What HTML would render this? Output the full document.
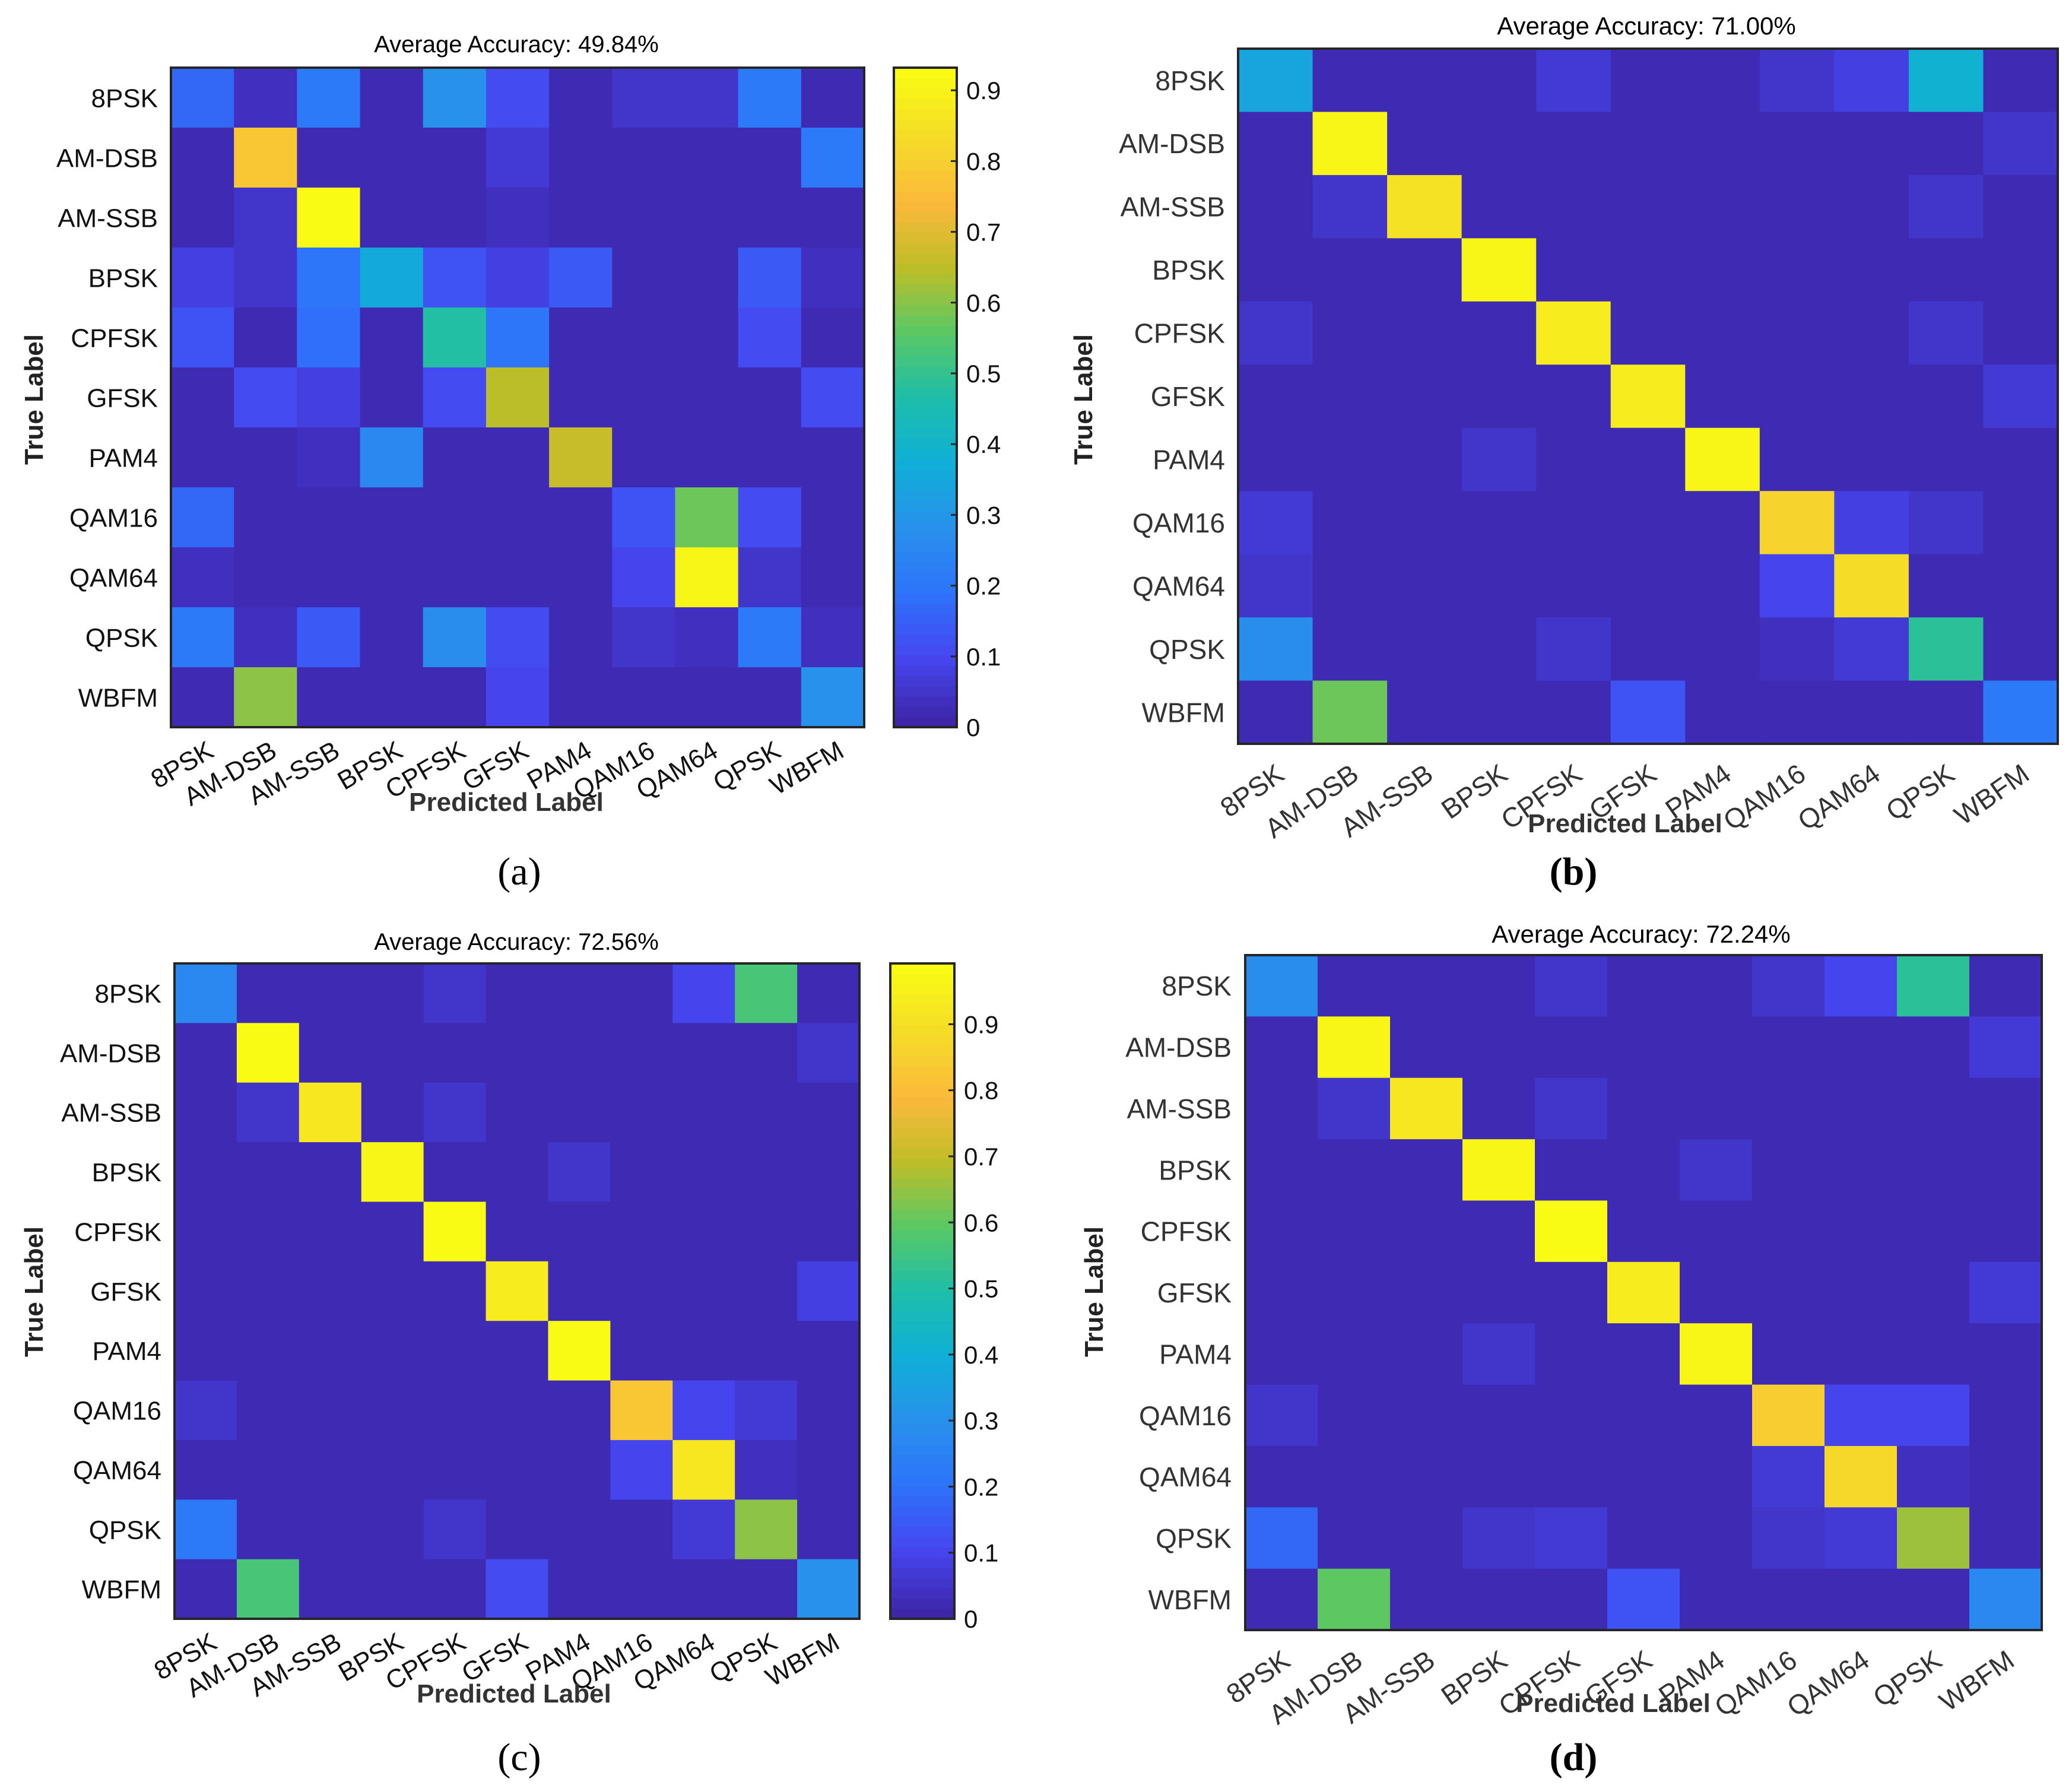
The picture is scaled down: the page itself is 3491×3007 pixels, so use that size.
<!DOCTYPE html>
<html><head><meta charset="utf-8"><title>Confusion matrices</title>
<style>html,body{margin:0;padding:0;background:#fff}svg{display:block}</style></head>
<body>
<svg id="fig" xmlns="http://www.w3.org/2000/svg" width="3491" height="3007" viewBox="0 0 3491 3007">
<rect width="3491" height="3007" fill="#fff"/>
</svg>
<script>
const classes = ["8PSK","AM-DSB","AM-SSB","BPSK","CPFSK","GFSK","PAM4","QAM16","QAM64","QPSK","WBFM"];
const titleA = "Average Accuracy: 49.84%";
const titleB = "Average Accuracy: 71.00%";
const titleC = "Average Accuracy: 72.56%";
const titleD = "Average Accuracy: 72.24%";
const matA = [
 [0.17,0.03,0.20,0.02,0.28,0.10,0.02,0.04,0.04,0.20,0.02],
 [0.01,0.78,0.01,0.01,0.01,0.06,0.01,0.01,0.01,0.01,0.21],
 [0.01,0.04,0.93,0.01,0.01,0.03,0.01,0.01,0.01,0.01,0.01],
 [0.07,0.05,0.19,0.35,0.12,0.08,0.14,0.01,0.01,0.13,0.03],
 [0.12,0.02,0.18,0.01,0.47,0.19,0.01,0.01,0.01,0.10,0.02],
 [0.01,0.10,0.08,0.01,0.10,0.65,0.01,0.01,0.01,0.01,0.11],
 [0.01,0.01,0.03,0.25,0.01,0.01,0.67,0.01,0.01,0.01,0.01],
 [0.16,0.01,0.01,0.01,0.01,0.01,0.01,0.12,0.58,0.10,0.01],
 [0.03,0.01,0.01,0.01,0.01,0.01,0.01,0.09,0.91,0.04,0.01],
 [0.20,0.03,0.14,0.02,0.26,0.10,0.02,0.05,0.03,0.20,0.03],
 [0.01,0.60,0.01,0.01,0.01,0.09,0.01,0.01,0.01,0.01,0.28]
];
const matB = [
 [0.36,0.02,0.02,0.02,0.06,0.02,0.02,0.04,0.08,0.42,0.02],
 [0.02,0.99,0.02,0.02,0.02,0.02,0.02,0.02,0.02,0.02,0.05],
 [0.02,0.04,0.92,0.02,0.02,0.02,0.02,0.02,0.02,0.04,0.02],
 [0.02,0.02,0.02,0.99,0.02,0.02,0.02,0.02,0.02,0.02,0.02],
 [0.04,0.02,0.02,0.02,0.96,0.02,0.02,0.02,0.02,0.04,0.02],
 [0.02,0.02,0.02,0.02,0.02,0.96,0.02,0.02,0.02,0.02,0.06],
 [0.02,0.02,0.02,0.04,0.02,0.02,0.99,0.02,0.02,0.02,0.02],
 [0.07,0.02,0.02,0.02,0.02,0.02,0.02,0.87,0.08,0.05,0.02],
 [0.04,0.02,0.02,0.02,0.02,0.02,0.02,0.09,0.90,0.02,0.02],
 [0.29,0.02,0.02,0.02,0.05,0.02,0.02,0.03,0.07,0.52,0.02],
 [0.02,0.62,0.02,0.02,0.02,0.12,0.02,0.02,0.02,0.02,0.23]
];
const matC = [
 [0.27,0.02,0.02,0.02,0.05,0.02,0.02,0.02,0.09,0.56,0.02],
 [0.02,0.99,0.02,0.02,0.02,0.02,0.02,0.02,0.02,0.02,0.04],
 [0.02,0.05,0.93,0.02,0.05,0.02,0.02,0.02,0.02,0.02,0.02],
 [0.02,0.02,0.02,0.97,0.02,0.02,0.04,0.02,0.02,0.02,0.02],
 [0.02,0.02,0.02,0.02,0.99,0.02,0.02,0.02,0.02,0.02,0.02],
 [0.02,0.02,0.02,0.02,0.02,0.95,0.02,0.02,0.02,0.02,0.08],
 [0.02,0.02,0.02,0.02,0.02,0.02,0.99,0.02,0.02,0.02,0.02],
 [0.05,0.02,0.02,0.02,0.02,0.02,0.02,0.83,0.09,0.06,0.02],
 [0.02,0.02,0.02,0.02,0.02,0.02,0.02,0.09,0.93,0.03,0.02],
 [0.22,0.02,0.02,0.02,0.05,0.02,0.02,0.02,0.07,0.64,0.02],
 [0.02,0.56,0.02,0.02,0.02,0.11,0.02,0.02,0.02,0.02,0.30]
];
const matD = [
 [0.28,0.02,0.02,0.02,0.04,0.02,0.02,0.04,0.09,0.52,0.02],
 [0.02,0.99,0.02,0.02,0.02,0.02,0.02,0.02,0.02,0.02,0.06],
 [0.02,0.04,0.93,0.02,0.04,0.02,0.02,0.02,0.02,0.02,0.02],
 [0.02,0.02,0.02,0.99,0.02,0.02,0.05,0.02,0.02,0.02,0.02],
 [0.02,0.02,0.02,0.02,1.00,0.02,0.02,0.02,0.02,0.02,0.02],
 [0.02,0.02,0.02,0.02,0.02,0.96,0.02,0.02,0.02,0.02,0.06],
 [0.02,0.02,0.02,0.04,0.02,0.02,0.99,0.02,0.02,0.02,0.02],
 [0.05,0.02,0.02,0.02,0.02,0.02,0.02,0.85,0.10,0.10,0.02],
 [0.02,0.02,0.02,0.02,0.02,0.02,0.02,0.06,0.89,0.03,0.02],
 [0.17,0.02,0.02,0.05,0.06,0.02,0.02,0.05,0.06,0.66,0.02],
 [0.02,0.60,0.02,0.02,0.02,0.12,0.02,0.02,0.02,0.02,0.27]
];
const cbMaxA = 0.932;
const cbMaxC = 0.992;
const cbTicks = [0,0.1,0.2,0.3,0.4,0.5,0.6,0.7,0.8,0.9];
const cbTickLabels = ["0","0.1","0.2","0.3","0.4","0.5","0.6","0.7","0.8","0.9"];

const NS = "http://www.w3.org/2000/svg";
const svg = document.getElementById('fig');
const stops = [[0,62,38,168],[0.1,70,70,240],[0.2,45,115,250],[0.3,40,145,235],[0.4,15,175,215],[0.5,30,190,170],[0.6,90,200,100],[0.7,190,190,40],[0.8,252,185,60],[0.9,245,220,40],[1,249,251,20]];
function parula(t){
  t=Math.max(0,Math.min(1,t));
  t=Math.round(t*63)/63;
  for(let i=1;i<stops.length;i++){
    if(t<=stops[i][0]){
      const a=stops[i-1],b=stops[i],f=(t-a[0])/(b[0]-a[0]);
      return `rgb(${Math.round(a[1]+f*(b[1]-a[1]))},${Math.round(a[2]+f*(b[2]-a[2]))},${Math.round(a[3]+f*(b[3]-a[3]))})`;
    }
  }
  return 'rgb(249,251,20)';
}
function el(tag, attrs, parent){
  const e=document.createElementNS(NS,tag);
  for(const k in attrs) e.setAttribute(k, attrs[k]);
  parent.appendChild(e);
  return e;
}
const panels = [
 {id:'a',mat:matA,title:titleA,vmax:cbMaxA,L:288,R:1456,T:114,B:1225,titleX:870,titleY:88,ylabR:266,tlX:72,tlY:673,plX:853,plY:1366,letX:875,letY:1490,rot:-30,fs:44,tfs:40,color:'#111',bold:false,cb:[1506,1612],dx:22,dy:48},
 {id:'b',mat:matB,title:titleB,vmax:1,L:2086,R:3467,T:82,B:1253,titleX:2774,titleY:58,ylabR:2064,tlX:1840,tlY:673,plX:2738,plY:1402,letX:2651,letY:1490,rot:-35,fs:46,tfs:42,color:'#333',bold:true,cb:null,dx:18,dy:58},
 {id:'c',mat:matC,title:titleC,vmax:cbMaxC,L:294,R:1448,T:1623,B:2727,titleX:870,titleY:1600,ylabR:272,tlX:72,tlY:2176,plX:866,plY:2868,letX:875,letY:2982,rot:-30,fs:44,tfs:40,color:'#111',bold:false,cb:[1500,1608],dx:22,dy:48},
 {id:'d',mat:matD,title:titleD,vmax:1,L:2098,R:3440,T:1609,B:2746,titleX:2765,titleY:1588,ylabR:2075,tlX:1858,tlY:2176,plX:2718,plY:2884,letX:2651,letY:2982,rot:-35,fs:46,tfs:42,color:'#333',bold:true,cb:null,dx:18,dy:58}
];
panels.forEach(p=>{
  const g=el('g',{},svg);
  
  
  const n=classes.length;
  const cw=(p.R-p.L)/n, ch=(p.B-p.T)/n;
  const xS=j=>p.L+j*cw, yS=i=>p.T+i*ch;
  const font='Liberation Sans, Arial, sans-serif';
  p.mat.forEach((row,i)=>row.forEach((v,j)=>{
    const r=el('rect',{x:xS(j),y:yS(i),width:cw+0.6,height:ch+0.6,fill:parula(v/p.vmax)},g);
    
    
  }));
  const fr=el('rect',{x:p.L,y:p.T,width:p.R-p.L,height:p.B-p.T,fill:'none',stroke:'#262626','stroke-width':4},g);
  
  
  const t=el('text',{x:p.titleX,y:p.titleY,'text-anchor':'middle','font-family':font,'font-size':p.tfs,fill:'#000'},g);
  t.textContent=p.title;
  
  
  classes.forEach((c,i)=>{
    const yl=el('text',{x:p.ylabR,y:yS(i)+ch/2+p.fs*0.36,'text-anchor':'end','font-family':font,'font-size':p.fs,fill:p.color},g);
    yl.textContent=c;
    
    
    const ax=xS(i)+cw/2+p.dx, ay=p.B+p.dy;
    const xl=el('text',{x:ax,y:ay,'text-anchor':'end','font-family':font,'font-size':p.fs,fill:p.color,transform:`rotate(${p.rot} ${ax} ${ay})`},g);
    xl.textContent=c;
    
    
  });
  const tl=el('text',{x:p.tlX,y:p.tlY,'text-anchor':'middle','font-family':font,'font-size':44,'font-weight':'bold',fill:'#222',transform:`rotate(-90 ${p.tlX} ${p.tlY})`},g);
  tl.textContent='True Label';
  
  
  const pl=el('text',{x:p.plX,y:p.plY,'text-anchor':'middle','font-family':font,'font-size':44,'font-weight':'bold',fill:'#333'},g);
  pl.textContent='Predicted Label';
  
  
  const lt=el('text',{x:p.letX,y:p.letY,'text-anchor':'middle','font-family':'Liberation Serif, serif','font-size':66,'font-weight':p.bold?'bold':'normal',fill:'#000'},g);
  lt.textContent='('+p.id+')';
  
  
  if(p.cb){
    const cg=el('g',{},g);
    
    
    const steps=64, h=(p.B-p.T)/steps;
    for(let k=0;k<steps;k++){
      el('rect',{x:p.cb[0],y:p.B-(k+1)*h,width:p.cb[1]-p.cb[0],height:h+0.6,fill:parula((k+0.5)/steps)},cg);
    }
    el('rect',{x:p.cb[0],y:p.T,width:p.cb[1]-p.cb[0],height:p.B-p.T,fill:'none',stroke:'#262626','stroke-width':4},cg);
    const cy=v=>p.B-(v/p.vmax)*(p.B-p.T);
    cbTicks.forEach((v,k)=>{
      el('line',{x1:p.cb[1]-10,x2:p.cb[1],y1:cy(v),y2:cy(v),stroke:'#262626','stroke-width':3},cg);
      const tt=el('text',{x:p.cb[1]+16,y:cy(v)+15,'font-family':font,'font-size':42,fill:'#111'},cg);
      tt.textContent=cbTickLabels[k];
      
      
    });
  }
});
</script>
</body></html>
